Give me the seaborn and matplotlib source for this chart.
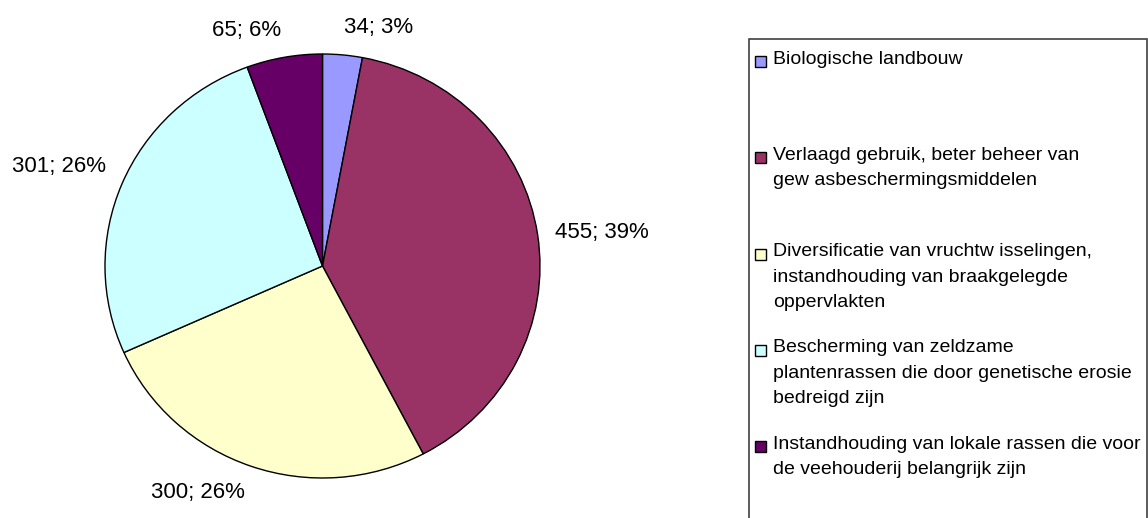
import matplotlib
matplotlib.use("Agg")
import numpy as np
import matplotlib.pyplot as plt
import seaborn as sns
from matplotlib.patches import Rectangle

# Gegevens
categories = [
    "Biologische landbouw",
    "Verlaagd gebruik, beter beheer van\ngew asbeschermingsmiddelen",
    "Diversificatie van vruchtw isselingen,\ninstandhouding van braakgelegde\noppervlakten",
    "Bescherming van zeldzame\nplantenrassen die door genetische erosie\nbedreigd zijn",
    "Instandhouding van lokale rassen die voor\nde veehouderij belangrijk zijn",
]
values = [34, 455, 300, 301, 65]
colors = ["#9999FF", "#993366", "#FFFFCC", "#CCFFFF", "#660066"]

sns.set_style("white")
plt.rcParams["font.family"] = ["Liberation Sans", "DejaVu Sans"]
plt.rcParams["text.color"] = "black"

total = sum(values)
labels = [f"{v}; {round(100 * v / total)}%" for v in values]

fig = plt.figure(figsize=(11.48, 5.18), dpi=100)
ax = fig.add_axes([105 / 1148, 40 / 518, 435 / 1148, 424 / 518])
wedges, texts = ax.pie(values, labels=labels, colors=sns.color_palette(colors),
                       startangle=90, counterclock=False, labeldistance=1.08,
                       wedgeprops=dict(edgecolor="black", linewidth=1),
                       textprops=dict(fontsize=16, color="black"))
# labels boven/onder het taartdiagram tegen de rand aanleggen (zoals Excel)
for w, t in zip(wedges, texts):
    s = np.sin(np.deg2rad((w.theta1 + w.theta2) / 2))
    if s > 0.3:
        t.set_va("bottom")
    elif s < -0.3:
        t.set_va("top")
ax.set_aspect("auto")
ax.set_xlim(-1, 1)
ax.set_ylim(-1, 1)

# Legende met kader
fig.patches.append(Rectangle((749 / 1148, -0.05), 398 / 1148, (518 - 39) / 518 + 0.05,
                             transform=fig.transFigure, facecolor="white",
                             edgecolor="#404040", linewidth=1.2, zorder=0))
for i, (cat, col) in enumerate(zip(categories, colors)):
    y = 1 - (61.5 + i * 96.3) / 518
    fig.patches.append(Rectangle((755 / 1148, y - 5.5 / 518), 11 / 1148, 11 / 518,
                                 transform=fig.transFigure, facecolor=col,
                                 edgecolor="black", linewidth=1, zorder=2))
    fig.text(773 / 1148, y + 11 / 518, cat, fontsize=14, va="top", ha="left",
             linespacing=1.65, color="black")

fig.savefig("out.png", dpi=100)
